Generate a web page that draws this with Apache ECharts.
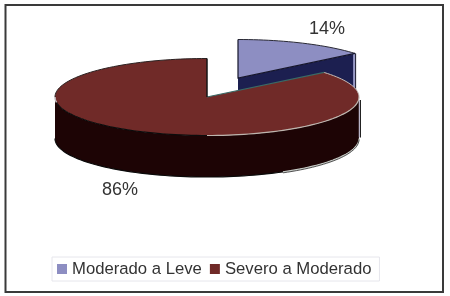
<!DOCTYPE html>
<html><head><meta charset="utf-8">
<style>html,body{margin:0;padding:0;background:#fff}#c{width:450px;height:296px}</style>
<script src="https://cdn.jsdelivr.net/npm/echarts@6/dist/echarts.min.js"></script>
</head><body><div id="c"></div>
<script>
const categories = ['Moderado a Leve', 'Severo a Moderado'];
const values = [14, 86];
const percentLabels = ['14%', '86%'];
const topColors = ['#8d8ec2', '#702a28'];
const wallColors = ['#1c1f50', '#1d0405'];

const total = values.reduce((a, b) => a + b, 0);
const RX = 152, RY = 38.5, DEPTH = 41.5;
const centers = [[238, 78], [207, 97]];
const labelPos = [[327, 29], [120, 190]];

function pt(c, deg, dz) {
  const a = deg * Math.PI / 180;
  return [c[0] + RX * Math.sin(a), c[1] - RY * Math.cos(a) + (dz || 0)];
}
function arc(c, a0, a1, dz) {
  const out = [], n = Math.max(2, Math.ceil(Math.abs(a1 - a0) / 2));
  for (let i = 0; i <= n; i++) out.push(pt(c, a0 + (a1 - a0) * i / n, dz));
  return out;
}
function line(points, stroke, w) {
  return { type: 'polyline', shape: { points }, style: { fill: null, stroke, lineWidth: w || 1 }, silent: true };
}

function renderSlice(idx) {
  return function (params, api) {
    const val = api.value(0);
    let start = 0;
    for (let i = 0; i < idx; i++) start += values[i] / total * 360;
    const end = start + val / total * 360;
    const c = centers[idx];
    const children = [];
    if (idx === 0) {
      const p = pt(c, end), q = [c[0], c[1] + DEPTH], r = [p[0], p[1] + DEPTH];
      children.push({ type: 'polygon', shape: { points: [[c[0], c[1]], p, r, q] }, style: { fill: wallColors[0] } });
      children.push(line([[p[0] - 1, p[1]], [r[0] - 1, r[1]]], '#9a9cc8', 2));
      children.push(line([[p[0] + 0.5, p[1]], [r[0] + 0.5, r[1]]], '#15152a', 1));
      children.push({ type: 'polygon', shape: { points: [c].concat(arc(c, start, end)) }, style: { fill: topColors[0] } });
      children.push(line(arc(c, start, end), '#2a2a35', 1));
      children.push(line([pt(c, start), c, p], '#15152a', 1.2));
    } else {
      const wallFrom = Math.max(start, 90), wallTo = Math.min(end, 270);
      const front = arc(c, wallFrom, wallTo).concat(arc(c, wallTo, wallFrom, DEPTH));
      children.push({ type: 'polygon', shape: { points: front }, style: { fill: wallColors[1] } });
      children.push(line(arc(c, 150, wallTo, DEPTH), '#0a0a0a', 1.2));
      children.push(line(arc(c, wallFrom, 150, DEPTH), '#c8cdc8', 1.2));
      children.push(line(arc(c, wallFrom, 150, DEPTH + 1), '#222', 0.8));
      const rr = pt(c, wallFrom);
      children.push(line([[rr[0] + 0.5, rr[1] + 3], [rr[0] + 0.5, rr[1] + DEPTH - 1]], '#b9b4c8', 1.5));
      children.push(line([[rr[0] + 1.5, rr[1] + 3], [rr[0] + 1.5, rr[1] + DEPTH - 1]], '#222', 1));
      const top = [c].concat(arc(c, start, end));
      children.push({ type: 'polygon', shape: { points: top }, style: { fill: topColors[1] } });
      children.push(line(arc(c, wallFrom, 180), '#bdb5ae', 1.2));
      children.push(line(arc(c, 180, 262), '#0c0c0c', 1.2));
      children.push(line(arc(c, 262, wallTo), '#c4bcc0', 1.5));
      children.push(line(arc(c, wallTo, end), '#2b2222', 1));
      children.push(line(arc(c, start, wallFrom), '#c4bcb8', 1));
      children.push(line([pt(c, start), c], '#3a6a66', 1.2));
      children.push(line([c, pt(c, end)], '#151515', 1.5));
    }
    children.push({
      type: 'text',
      style: { text: percentLabels[idx], x: labelPos[idx][0], y: labelPos[idx][1], align: 'center', verticalAlign: 'middle',
               fill: '#333', font: '18px "Liberation Sans", Arial, sans-serif' }
    });
    return { type: 'group', children };
  };
}

const chart = echarts.init(document.getElementById('c'), null, { renderer: 'canvas' });
chart.setOption({
  animation: false,
  backgroundColor: '#fff',
  graphic: [{ type: 'rect', shape: { x: 5.5, y: 5, width: 437.5, height: 287 }, style: { fill: null, stroke: '#3a3a3a', lineWidth: 2 }, silent: true }],
  legend: {
    data: categories, left: 52, top: 257, orient: 'horizontal',
    itemWidth: 10, itemHeight: 10, itemGap: 8, padding: [3, 8, 3, 5],
    borderColor: '#e6e6ec', borderWidth: 1, icon: 'rect',
    textStyle: { fontSize: 16.7, color: '#333', lineHeight: 18, fontFamily: '"Liberation Sans", Arial, sans-serif' }
  },
  series: categories.map((name, i) => ({
    type: 'custom', name, coordinateSystem: 'none',
    z: i + 2,
    itemStyle: { color: topColors[i] },
    renderItem: renderSlice(i),
    data: [[values[i]]]
  }))
});
</script></body></html>
